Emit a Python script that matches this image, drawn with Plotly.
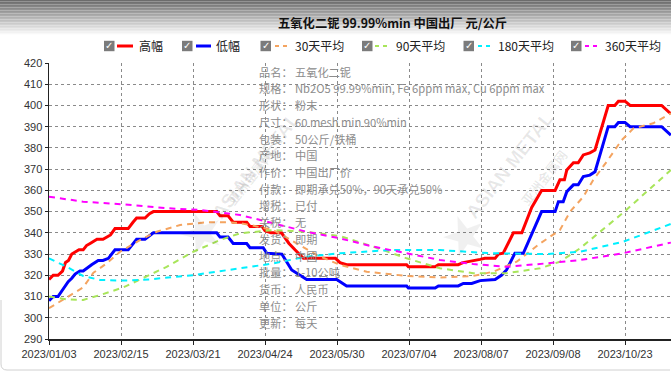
import plotly.graph_objects as go

# ---------------- data (x = trading-day index from 2023/01/03) ----------------
tick_index = [0, 24, 48, 72, 96, 120, 144, 168, 192]
tick_labels = ["2023/01/03", "2023/02/15", "2023/03/21", "2023/04/24", "2023/05/30",
               "2023/07/04", "2023/08/07", "2023/09/08", "2023/10/23"]

high_x = [0, 1.4, 3, 4.5, 5.5, 6.5, 7.6, 9, 10, 11.4, 12.5, 13.7, 15, 16, 18, 19.2, 20.5, 22, 26.4, 28,
          29.2, 32, 33.5, 34.8, 55.9, 57, 59.7, 61.4, 65.9, 67, 71, 72, 74, 77.5, 80, 82, 84.8, 95.5, 97,
          99.2, 119.2, 119.8, 128.7, 129.8, 136.4, 138, 140.3, 143.7, 145.3, 148.7, 149.8, 151.4, 154.8,
          157.6, 160.9, 164.2, 168.7, 170.3, 171.8, 172.6, 174.8, 176.4, 178.1, 180.3, 182, 186.4, 188.6,
          189.8, 192, 193.7, 204.2, 207.3]
high_y = [318, 320, 320, 322, 326, 327, 330, 331, 332, 332, 334, 335, 336, 337, 337, 338, 339, 342, 342, 345,
          347, 347, 349, 350, 350, 348, 348, 345, 345, 343, 343, 341, 340, 340, 335, 332, 328, 328, 326,
          325, 325, 324, 324, 325, 325, 326, 326.5, 327.5, 328, 328, 330, 330.4, 340,
          340, 352, 360, 360, 365, 365, 369.6, 373, 373, 376.7, 377.7, 379, 400, 400,
          402, 402, 400, 400, 396]

low_x = [0, 1.4, 3, 5.3, 6.4, 7.6, 8.7, 10.3, 11.4, 14.2, 16.4, 18, 19.8, 22, 26.4, 29.2, 32, 34.8, 55.9,
         57, 59.7, 61.4, 65.9, 67, 71.4, 72.6, 77.6, 80.9, 85.9, 95.9, 99.2, 119.2, 119.8, 128.7, 129.8,
         136.4, 138.1, 140.9, 143.7, 148.7, 150.9, 152.5, 155.3, 158.1, 164.2, 168.7, 169.8, 171.4, 172.6,
         174.8, 176.4, 178.1, 180.3, 182, 186.4, 188.6, 189.8, 192, 193.7, 204.2, 207.3]
low_y = [308, 310, 310, 315, 317, 318.6, 320.6, 322, 322, 325, 327, 327, 328, 332, 332, 337, 337, 340, 340,
         338, 338, 335, 335, 333, 333, 330.4, 330, 322.5, 318, 318, 315, 315, 314, 314, 315,
         315, 316.2, 316.2, 317.5, 318, 320.1, 322.5, 330.4, 330.4, 350, 350, 354.7, 354.7, 359.4,
         362.6, 362.6, 366.5, 367.2, 368.8, 390, 390, 392, 392, 390, 390, 386]

avg30_x = [0, 3.7, 7, 11.4, 14.8, 19.2, 23.7, 30.3, 35.9, 43.7, 52.6, 59.2, 63.7, 67, 74.8, 83.7, 89.2, 97,
           105.9, 119.2, 130.3, 141.4, 148.1, 155.9, 163.7, 170.3, 173.7, 178.1, 181.4, 185.9, 190.9,
           194.8, 201.4, 207.3]
avg30_y = [304.5, 307.6, 310.7, 314.3, 321.2, 325.6, 331.1, 336.6, 340.5, 343.7, 345, 345, 344.5, 343.7,
           341.3, 334.3, 329.6, 324.9, 321.7, 319.7, 319, 319.7, 321.7, 326.4, 335, 341.3, 350, 357, 364.9,
           373.5, 383.7, 389.2, 391.6, 396.3]

avg90_x = [0, 5.9, 11.4, 17, 24.8, 33.7, 39.2, 48.1, 57, 63.7, 74.8, 85.9, 97, 108.1, 119.2, 130.3, 141.4,
           152.6, 163.7, 170.3, 177, 183.7, 191.4, 207.3]
avg90_y = [310, 308.7, 308.4, 310.7, 314.3, 320.1, 324, 331.1, 336.6, 339.8, 341.3, 340.5, 338.5, 333.5,
           328, 323.3, 321, 321, 323.3, 326.4, 332.7, 340.5, 349.5, 369.6]

avg180_x = [0, 5.9, 11.4, 17, 24.8, 33.7, 48.1, 63.7, 74.8, 85.9, 97, 113.7, 130.3, 147, 165.6, 177, 191.4,
            207.3]
avg180_y = [328, 324, 319.7, 317.8, 317.5, 318.1, 320.1, 323.3, 325.6, 328.8, 330.4, 331.9, 331.9, 330.4,
            330, 331.1, 335.8, 344.2]

avg360_x = [0, 11.4, 24.8, 39.2, 50.3, 63.7, 74.8, 85.9, 97, 108.1, 119.2, 130.3, 141.4, 152.6, 165.6,
            177, 191.4, 207.3]
avg360_y = [357, 354.7, 353.4, 351.6, 350.8, 348.4, 344.5, 340.5, 337.4, 333.5, 330.4, 327.2, 325.3, 324,
            325.6, 327.2, 330.4, 335.4]

series_names = ["高幅", "低幅", "30天平均", "90天平均", "180天平均", "360天平均"]
series_colors = ["#ff0000", "#0000ff", "#f4a460", "#a8e55a", "#00f0ff", "#ff00ff"]

info_labels = ["品名：", "规格：", "形状：", "尺寸：", "包装：", "产地：", "作价：", "付款：",
               "增税：", "关税：", "发货：", "地点：", "批量：", "货币：", "单位：", "更新："]
info_values = ["五氧化二铌", "Nb2O5 99.99%min, Fe 6ppm max, Cu 6ppm max", "粉末", "60 mesh min 90%min",
               "50公斤/铁桶", "中国", "中国出厂价", "即期承兑50%，90天承兑50%", "已付", "无", "即期",
               "中国", "1-10公吨", "人民币", "公斤", "每天"]

title_text = "五氧化二铌 99.99%min 中国出厂 元/公斤"

# ---------------- layout helpers ----------------
W, H = 671, 372
L, R, T, B = 49, 0, 63, 33
PW, PH = W - L - R, H - T - B


def px(x):
    return (x - L) / PW


def py(y):
    return (H - B - y) / PH


CJK = "Noto Sans CJK SC"

fig = go.Figure()
xs = [high_x, low_x, avg30_x, avg90_x, avg180_x, avg360_x]
ys = [high_y, low_y, avg30_y, avg90_y, avg180_y, avg360_y]
for k in range(6):
    solid = k < 2
    fig.add_trace(go.Scatter(
        x=xs[k], y=ys[k], mode="lines", name=series_names[k],
        line=dict(color=series_colors[k], width=3 if solid else 2,
                  dash="solid" if solid else "6px,5px"),
        showlegend=False, hoverinfo="skip"))

shapes = []
annotations = []

# header gradient
n = 24
for j in range(n):
    y0 = 36 * j / n
    y1 = 36 * (j + 1) / n
    t = j / (n - 1)
    c = int(108 + (255 - 108) * t)
    shapes.append(dict(type="rect", xref="paper", yref="paper", x0=px(0), x1=px(W),
                       y0=py(y1), y1=py(y0), fillcolor=f"rgb({c},{c},{c})", line=dict(width=0),
                       layer="below"))

annotations.append(dict(text=f"<b>{title_text}</b>", xref="paper", yref="paper",
                        x=px(392), y=py(23), showarrow=False, xanchor="center", yanchor="middle",
                        font=dict(family=CJK, size=12.3, color="#111")))

# legend
cb_x = [104, 182, 260.5, 362, 463.5, 571]
line_x = [(117, 133), (196, 211), (275, 289), (375, 389), (478, 492), (585, 599)]
text_x = [136.5, 213.7, 292.7, 394, 495.7, 603]
ly = 46
for k in range(6):
    shapes.append(dict(type="rect", xref="paper", yref="paper", x0=px(cb_x[k]), x1=px(cb_x[k] + 10.5),
                       y0=py(ly + 5.2), y1=py(ly - 5.2), fillcolor="#7b7b7b", line=dict(width=0)))
    annotations.append(dict(text="✓", xref="paper", yref="paper", x=px(cb_x[k] + 5.3), y=py(ly),
                            showarrow=False, xanchor="center", yanchor="middle",
                            font=dict(family="DejaVu Sans", size=10, color="white")))
    solid = k < 2
    shapes.append(dict(type="line", xref="paper", yref="paper", x0=px(line_x[k][0]), x1=px(line_x[k][1]),
                       y0=py(ly), y1=py(ly),
                       line=dict(color=series_colors[k], width=3 if solid else 2,
                                 dash="solid" if solid else "4px,4px")))
    annotations.append(dict(text=series_names[k], xref="paper", yref="paper", x=px(text_x[k]), y=py(ly),
                            showarrow=False, xanchor="left", yanchor="middle",
                            font=dict(family=CJK, size=12, color="#222")))

# watermarks
for cx, cy in [(205, 165), (560, 165)]:
    annotations.append(dict(text="<b>ASIAN METAL</b>", xref="paper", yref="paper", x=px(cx), y=py(cy),
                            showarrow=False, textangle=-52,
                            font=dict(family="Liberation Sans", size=19, color="rgba(0,0,0,0.09)")))
    annotations.append(dict(text="<b>亚洲金属网</b>", xref="paper", yref="paper", x=px(cx + 14), y=py(cy + 12),
                            showarrow=False, textangle=-52,
                            font=dict(family=CJK, size=13, color="rgba(0,0,0,0.09)")))
for sx, sy in [(165, 232), (500, 235)]:
    annotations.append(dict(text="★", xref="paper", yref="paper", x=px(sx), y=py(sy),
                            showarrow=False, textangle=-20,
                            font=dict(family="DejaVu Sans", size=54, color="rgba(0,0,0,0.06)")))

# info block
for k in range(len(info_labels)):
    yy = 71.7 + 16.72 * k
    annotations.append(dict(text=info_labels[k], xref="paper", yref="paper", x=px(257), y=py(yy),
                            showarrow=False, xanchor="left", yanchor="middle",
                            font=dict(family=CJK, size=11.2, color="#8c8c8c")))
    annotations.append(dict(text=info_values[k], xref="paper", yref="paper", x=px(293), y=py(yy),
                            showarrow=False, xanchor="left", yanchor="middle",
                            font=dict(family=CJK, size=11.2, color="#8c8c8c")))

# container border (bottom rounded)
shapes.append(dict(type="path", xref="paper", yref="paper",
                   path=f"M {px(1)} {py(300)} L {px(1)} {py(364)} Q {px(1)} {py(370)} {px(7)} {py(370)} "
                        f"L {px(670)} {py(370)}",
                   line=dict(color="#d0d0d0", width=1)))

fig.update_layout(
    width=W, height=H, autosize=False,
    margin=dict(l=L, r=R, t=T, b=B, pad=0),
    paper_bgcolor="white", plot_bgcolor="white",
    shapes=shapes, annotations=annotations,
    xaxis=dict(range=[0, 207.33], tickmode="array", tickvals=tick_index, ticktext=tick_labels,
               showgrid=True, gridcolor="#8a8a8a", griddash="dot", gridwidth=1,
               showline=True, linecolor="#222", linewidth=1.5, ticks="outside", ticklen=4,
               tickcolor="#222", zeroline=False,
               tickfont=dict(family="Liberation Sans", size=11, color="#333")),
    yaxis=dict(range=[290, 420], tickmode="linear", tick0=290, dtick=10,
               showgrid=True, gridcolor="#8a8a8a", griddash="dot", gridwidth=1,
               showline=True, linecolor="#222", linewidth=1.5, ticks="outside", ticklen=3,
               tickcolor="#222", zeroline=False,
               tickfont=dict(family="Liberation Sans", size=11, color="#333")),
    showlegend=False,
)

fig.write_html("out.html", config={"displayModeBar": False, "staticPlot": True},
               post_script="document.body.style.margin='0';document.body.style.overflow='hidden';")
